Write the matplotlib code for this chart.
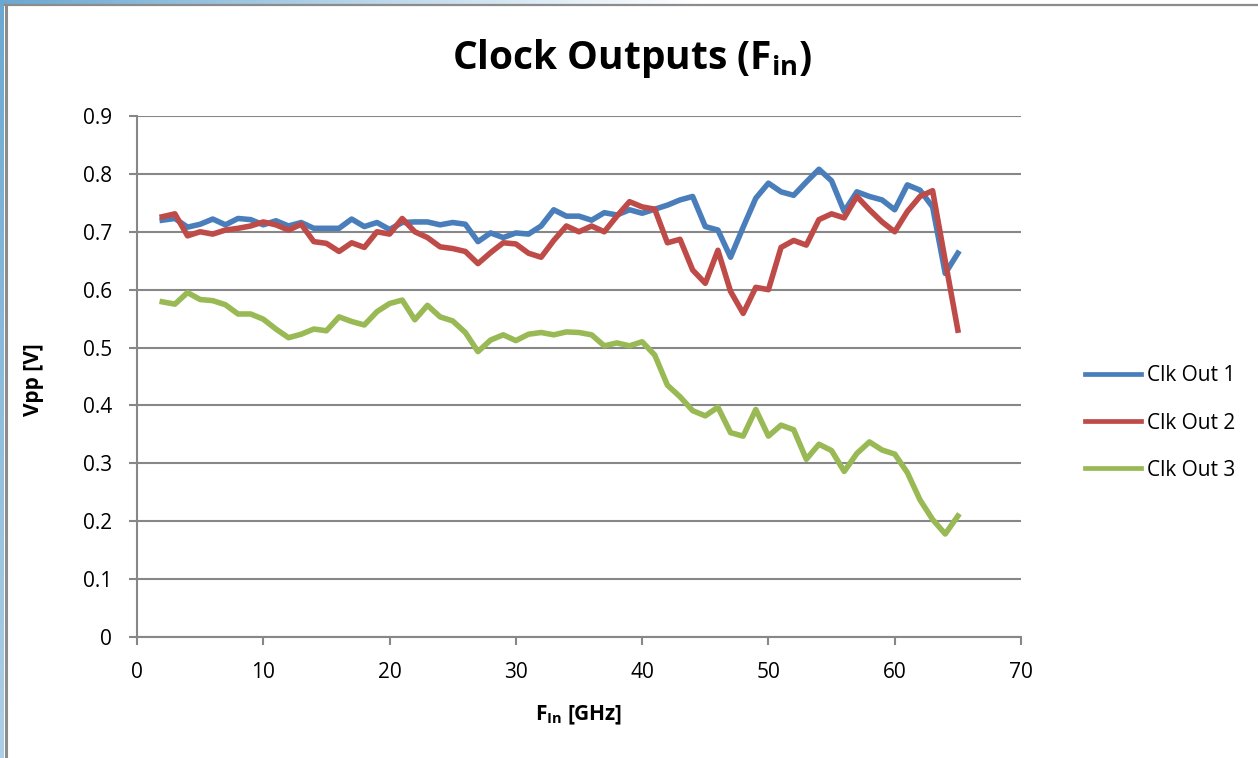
import matplotlib
matplotlib.use("Agg")
import matplotlib.pyplot as plt
import numpy as np

plt.rcParams['font.family'] = ['Open Sans', 'DejaVu Sans']
plt.rcParams['mathtext.fontset'] = 'custom'
plt.rcParams['mathtext.rm'] = 'Open Sans'
plt.rcParams['mathtext.bf'] = 'Open Sans:bold'

# Data
freq = list(range(2, 66))
clk_out_1 = [0.720, 0.723, 0.708, 0.713, 0.722, 0.712, 0.723, 0.721, 0.712, 0.719,
             0.710, 0.716, 0.706, 0.706, 0.706, 0.722, 0.709, 0.716, 0.704, 0.716,
             0.717, 0.717, 0.712, 0.716, 0.713, 0.683, 0.698, 0.690, 0.698, 0.696,
             0.710, 0.738, 0.727, 0.727, 0.720, 0.733, 0.729, 0.738, 0.732, 0.739,
             0.746, 0.755, 0.761, 0.709, 0.703, 0.656, 0.708, 0.758, 0.784, 0.769,
             0.763, 0.786, 0.808, 0.788, 0.735, 0.769, 0.761, 0.755, 0.738, 0.781,
             0.772, 0.743, 0.628, 0.663]
clk_out_2 = [0.726, 0.731, 0.693, 0.700, 0.696, 0.703, 0.706, 0.710, 0.717, 0.712,
             0.703, 0.713, 0.683, 0.680, 0.666, 0.681, 0.673, 0.700, 0.696, 0.723,
             0.700, 0.690, 0.674, 0.671, 0.666, 0.645, 0.664, 0.681, 0.679, 0.663,
             0.656, 0.685, 0.710, 0.700, 0.710, 0.700, 0.727, 0.752, 0.743, 0.739,
             0.681, 0.687, 0.634, 0.611, 0.668, 0.597, 0.559, 0.604, 0.600, 0.673,
             0.685, 0.677, 0.721, 0.731, 0.724, 0.761, 0.738, 0.717, 0.700, 0.735,
             0.761, 0.771, 0.650, 0.530]
clk_out_3 = [0.579, 0.575, 0.595, 0.583, 0.581, 0.574, 0.558, 0.558, 0.549, 0.532,
             0.517, 0.523, 0.532, 0.529, 0.553, 0.545, 0.539, 0.562, 0.576, 0.582,
             0.548, 0.573, 0.553, 0.546, 0.526, 0.493, 0.513, 0.522, 0.512, 0.523,
             0.526, 0.522, 0.527, 0.526, 0.522, 0.503, 0.508, 0.503, 0.510, 0.487,
             0.435, 0.415, 0.391, 0.382, 0.397, 0.353, 0.347, 0.393, 0.347, 0.366,
             0.358, 0.307, 0.333, 0.322, 0.286, 0.317, 0.337, 0.323, 0.316, 0.284,
             0.237, 0.203, 0.178, 0.209]

series_names = ['Clk Out 1', 'Clk Out 2', 'Clk Out 3']
series_colors = ['#4A7EBB', '#BE4B48', '#98B954']

W, H = 1258, 758
fig = plt.figure(figsize=(W / 100, H / 100), dpi=100)

# window chrome: blue gradient strips on top and left edges
bg = fig.add_axes([0, 0, 1, 1], zorder=-5)
bg.set_xlim(0, W)
bg.set_ylim(H, 0)
bg.axis('off')
blue = np.array([0.42, 0.66, 0.82])
t = np.linspace(0, 1, 300)[None, :, None]
top_strip = blue * (1 - t) + np.ones(3) * t
bg.imshow(np.repeat(top_strip, 2, axis=0), extent=(0, 700, 4, 0), aspect='auto')
s = np.linspace(0, 1, 200)[:, None, None] * 0.45
left_strip = (blue * (1 - s) + np.ones(3) * s)
bg.imshow(np.repeat(left_strip, 2, axis=1), extent=(0, 4, H, 4), aspect='auto')
bg.plot([5, W], [5, 5], color='#8c8c8c', lw=1.6)
bg.plot([5.5, 5.5], [5, H], color='#8c8c8c', lw=2.2)

ax = fig.add_axes([137 / W, 1 - 637 / H, (1021 - 137) / W, (637 - 116) / H])

for vals, name, col in zip([clk_out_1, clk_out_2, clk_out_3], series_names, series_colors):
    ax.plot(freq, vals, color=col, lw=4, label=name, solid_joinstyle='round')

ax.set_xlim(0, 70)
ax.set_ylim(0, 0.9)
ax.set_xticks(np.arange(0, 71, 10))
ax.set_yticks(np.arange(0, 0.91, 0.1))
ax.set_yticklabels(['0' if v == 0 else f'{v:.1f}' for v in np.arange(0, 0.91, 0.1)])
ax.grid(axis='y', color='#878787', lw=1.5)
ax.set_axisbelow(True)
for sp in ['top', 'right']:
    ax.spines[sp].set_visible(False)
for sp in ['left', 'bottom']:
    ax.spines[sp].set_color('#878787')
    ax.spines[sp].set_linewidth(1.5)
ax.tick_params(axis='both', colors='#878787', labelcolor='black', labelsize=15,
               length=6, width=1.5)
ax.tick_params(axis='y', pad=12)
ax.tick_params(axis='x', pad=12)

fig.text(33 / W, 1 - 380 / H, 'Vpp [V]', fontsize=15, fontweight='bold',
         rotation=90, ha='center', va='center')
fig.text(579 / W, 1 - 715 / H, r'F$_{\mathbf{In}}$ [GHz]', fontsize=15,
         fontweight='bold', ha='center', va='center')
fig.text(632 / W, 1 - 58 / H, r'Clock Outputs (F$_{\mathbf{in}}$)', fontsize=28,
         fontweight='bold', ha='center', va='center')

leg = fig.legend(loc='center left', bbox_to_anchor=(1066 / W, 1 - 423 / H),
                 frameon=False, fontsize=15, handlelength=2.7, handletextpad=0.3,
                 labelspacing=1.25)
for line in leg.get_lines():
    line.set_linewidth(3.4)

fig.savefig('out.png', dpi=100)
